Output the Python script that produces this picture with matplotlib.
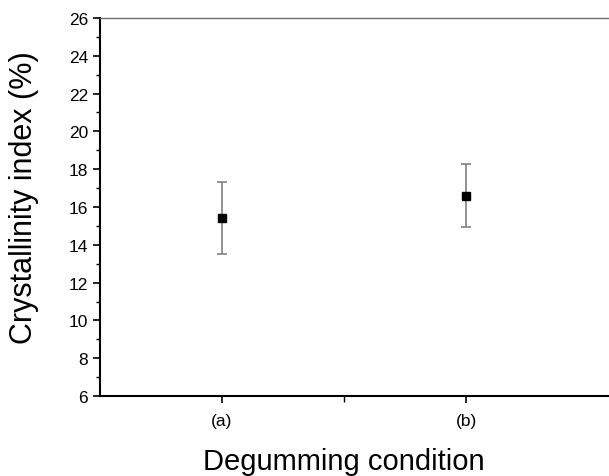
import matplotlib
matplotlib.use("Agg")
import matplotlib.pyplot as plt
from matplotlib.ticker import MultipleLocator, FixedLocator

plt.rcParams['font.family'] = ['Liberation Sans', 'DejaVu Sans']

conditions = ['(a)', '(b)']
crystallinity = [15.4, 16.6]
errors = [1.9, 1.67]

x = list(range(1, len(conditions) + 1))

fig = plt.figure(figsize=(6.09, 4.77), dpi=100)
# the right part of the frame runs past the edge of the figure
ax = fig.add_axes([0.1642, 0.1677, 0.8818, 0.7925])

ax.errorbar(x, crystallinity, yerr=errors, fmt='s', color='black',
            ecolor='#808080', elinewidth=1.2, capsize=3.5, capthick=1.2,
            markersize=6)

ax.set_xlim(0.5, 2.7)
ax.set_ylim(6, 26)
ax.set_xticks(x)
ax.set_xticklabels(conditions)
ax.xaxis.set_minor_locator(FixedLocator([1.5]))
ax.yaxis.set_major_locator(MultipleLocator(2))
ax.yaxis.set_minor_locator(MultipleLocator(1))

ax.tick_params(axis='both', which='major', direction='out', length=5,
               width=1.2, labelsize=12.5)
ax.tick_params(axis='x', which='major', pad=7)
ax.tick_params(axis='both', which='minor', direction='out', length=3, width=1)
ax.tick_params(axis='x', which='minor', length=4)

ax.spines['right'].set_visible(False)
ax.spines['top'].set_color('#707070')
ax.spines['top'].set_linewidth(1)
ax.spines['left'].set_linewidth(1.5)
ax.spines['bottom'].set_linewidth(1.5)

ax.set_ylabel('Crystallinity index (%)', fontsize=22)
ax.yaxis.set_label_coords(-0.113, 0.528)
ax.set_xlabel('Degumming condition', fontsize=21)
ax.xaxis.set_label_coords(0.4545, -0.135)

fig.savefig('out.png', dpi=100)
